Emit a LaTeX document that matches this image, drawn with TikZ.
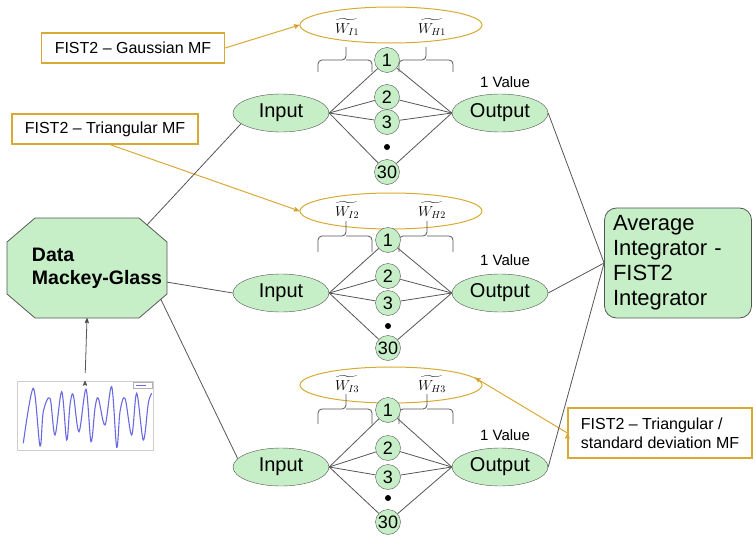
\documentclass[tikz,border=0pt]{standalone}
\usepackage{exscale}
\usepackage{fontspec}
\setmainfont{Liberation Sans}
\usetikzlibrary{arrows,shapes}
\definecolor{nodegreen}{RGB}{199,239,199}
\definecolor{mfyellow}{RGB}{216,170,52}
\definecolor{edgegray}{RGB}{85,85,85}
\definecolor{plotblue}{RGB}{105,105,225}

\begin{document}
\begin{tikzpicture}[x=1pt,y=-1pt,>=stealth',
    neuron/.style={shape=circle,draw=edgegray,fill=nodegreen,minimum size=25pt,inner sep=0pt,font=\fontsize{18}{18}\selectfont},
    layer/.style={shape=ellipse,draw=edgegray,fill=nodegreen,minimum width=96pt,minimum height=38pt,inner sep=0pt,font=\fontsize{20}{20}\selectfont},
    mfset/.style={shape=ellipse,draw=mfyellow,line width=1pt,minimum width=182pt,minimum height=36pt},
    mfnote/.style={draw=mfyellow,line width=1.2pt,align=left,inner xsep=9pt,font=\fontsize{16}{19}\selectfont},
    wlabel/.style={font=\fontsize{14.4}{15}\selectfont},
    wire/.style={draw=edgegray,line width=0.8pt},
    mfarrow/.style={->,draw=mfyellow,line width=1pt},
    setbrace/.style={draw=edgegray,line width=0.8pt,rounded corners=4pt}]
                \useasboundingbox (0,0) rectangle (755,538);
                % data source (octagon drawn under its text node) and integrator
                \draw[edgegray,fill=nodegreen,line width=0.8pt] (35,218) -- (139,218) -- (167,242) -- (167,294) -- (139,318) -- (35,318) -- (7,294) -- (7,242) -- cycle;
                \node[minimum width=160pt,minimum height=100pt,align=left,font=\fontsize{19.5}{23}\selectfont\bfseries](data)at(87, 268){\hspace*{20pt}Data\\\hspace*{20pt}Mackey-Glass};
                \node[draw=edgegray,fill=nodegreen,line width=0.8pt,rounded corners=12pt,minimum width=147pt,minimum height=110pt,text width=130pt,align=left,font=\fontsize{22}{25}\selectfont](avg)at(678, 263){Average\\Integrator -\\FIST2\\Integrator};
                % time series plot
                \node[draw=black!20,minimum width=136pt,minimum height=69pt,inner sep=0pt](plot)at(85, 415.5){};
                \draw[black!30] (133,382) rectangle (152,388);
                \draw[plotblue,line width=0.8pt] (136,385) -- (146,385);
                \draw[plotblue,line width=1.1pt] plot[smooth,tension=0.55] coordinates {(23.3,443.3) (33.3,388.3) (40,446) (43.3,411.7) (50,398.3) (55,435) (61.7,391.7) (66.7,440) (70,405) (73.3,395) (79,431.7) (86,389.3) (91,441.7) (95,408.3) (98.3,398.3) (105,425) (111.7,386.7) (116.7,447.3) (120,411.7) (125,398.3) (131.7,435) (136.7,393.3) (143.3,440) (148.3,403.3) (151.7,393.3)};
                % network 1
                \node[mfset](mf1)at(391, 25){};
                \node[wlabel](wi1)at(347, 27){$\widetilde{W_{I1}}$};
                \node[wlabel](wh1)at(432, 27){$\widetilde{W_{H1}}$};
                \draw[setbrace] (318,72) |- (346,60) -- (346,47) (346,60) -| (372,72);
                \draw[setbrace] (399,72) |- (426,60) -- (426,47) (426,60) -| (453,72);
                \node[neuron](h11)at(387, 60){1};
                \node[neuron](h12)at(387, 97){2};
                \node[neuron](h13)at(387, 122){3};
                \node[shape=circle,fill=black,inner sep=0pt,minimum size=6pt](d1)at(387, 147){};
                \node[neuron](h130)at(387, 172){30};
                \node[layer](in1)at(281, 113){Input};
                \node[layer](out1)at(500, 113){Output};
                \node[font=\fontsize{15}{15}\selectfont](val1)at(505, 82){1 Value};
                % network 2
                \node[mfset](mf2)at(391, 211){};
                \node[wlabel](wi2)at(347, 210){$\widetilde{W_{I2}}$};
                \node[wlabel](wh2)at(432, 210){$\widetilde{W_{H2}}$};
                \draw[setbrace] (318,252) |- (346,236) -- (346,221) (346,236) -| (372,252);
                \draw[setbrace] (399,252) |- (427,236) -- (427,221) (427,236) -| (453,252);
                \node[neuron](h21)at(388, 240){1};
                \node[neuron](h22)at(388, 276){2};
                \node[neuron](h23)at(388, 303){3};
                \node[shape=circle,fill=black,inner sep=0pt,minimum size=6pt](d2)at(388, 326){};
                \node[neuron](h230)at(388, 348){30};
                \node[layer](in2)at(281, 293){Input};
                \node[layer](out2)at(500, 293){Output};
                \node[font=\fontsize{15}{15}\selectfont](val2)at(505, 260){1 Value};
                % network 3
                \node[mfset](mf3)at(391, 385){};
                \node[wlabel](wi3)at(347, 384){$\widetilde{W_{I3}}$};
                \node[wlabel](wh3)at(432, 384){$\widetilde{W_{H3}}$};
                \draw[setbrace] (318,424) |- (346,409) -- (346,394) (346,409) -| (372,424);
                \draw[setbrace] (399,424) |- (427,409) -- (427,394) (427,409) -| (453,424);
                \node[neuron](h31)at(388, 410){1};
                \node[neuron](h32)at(388, 448){2};
                \node[neuron](h33)at(388, 477){3};
                \node[shape=circle,fill=black,inner sep=0pt,minimum size=6pt](d3)at(388, 498){};
                \node[neuron](h330)at(388, 522){30};
                \node[layer](in3)at(281, 467){Input};
                \node[layer](out3)at(500, 467){Output};
                \node[font=\fontsize{15}{15}\selectfont](val3)at(505, 435){1 Value};
                % membership function notes
                \node[mfnote,minimum width=183pt,minimum height=30pt](gauss)at(133, 48){FIST2 \textendash\ Gaussian MF};
                \node[mfnote,minimum width=186pt,minimum height=30pt](tri)at(105, 129){FIST2 \textendash\ Triangular MF};
                \node[mfnote,minimum width=184pt,minimum height=50pt](tristd)at(660, 433){FIST2 \textendash\ Triangular /\\standard deviation MF};
                \path[mfarrow](gauss.east) edge (mf1.west)
                ([xshift=5pt]tri.south) edge (mf2.west)
                (tristd.west) edge (mf3.5);
                \path[wire,->](plot.north) edge[shorten <=8pt] (data.south);
                \path[wire](data.37) edge[shorten <=-10pt] (in1.195)
                (data.-10) edge (in2.west)
                (data.-29) edge[shorten <=-15pt] (in3.169)
                (out1.east) edge (avg.west)
                (out2.east) edge (avg.west)
                (out3.east) edge (avg.west)
                % input and output layers
                (in1.east) edge (h11) (in1.east) edge (h12) (in1.east) edge (h13) (in1.east) edge (h130)
                (h11) edge (out1.west) (h12) edge (out1.west) (h13) edge (out1.west) (h130) edge (out1.west)
                (in2.east) edge (h21) (in2.east) edge (h22) (in2.east) edge (h23) (in2.east) edge (h230)
                (h21) edge (out2.west) (h22) edge (out2.west) (h23) edge (out2.west) (h230) edge (out2.west)
                (in3.east) edge (h31) (in3.east) edge (h32) (in3.east) edge (h33) (in3.east) edge (h330)
                (h31) edge (out3.west) (h32) edge (out3.west) (h33) edge (out3.west) (h330) edge (out3.west);
            \end{tikzpicture}
\end{document}
